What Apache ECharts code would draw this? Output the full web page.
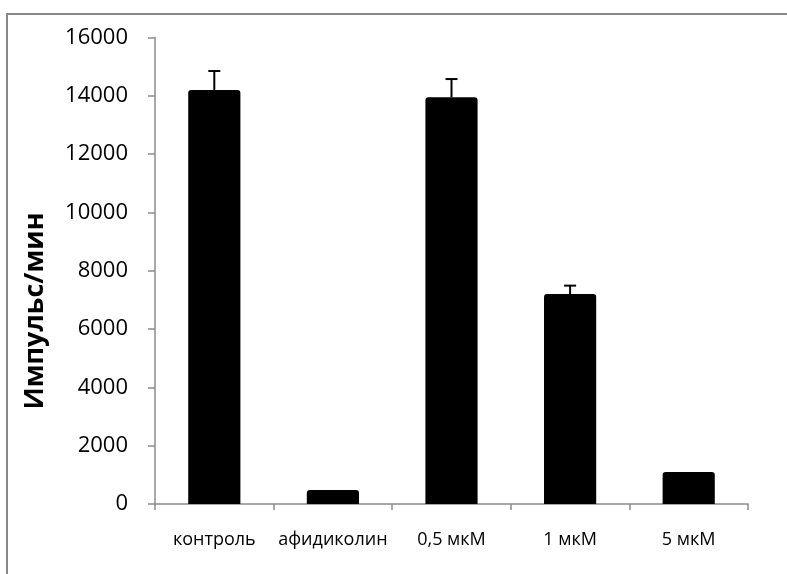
<!DOCTYPE html>
<html>
<head>
<meta charset="utf-8">
<script src="https://cdn.jsdelivr.net/npm/echarts@6/dist/echarts.min.js"></script>
<style>
  html, body { margin: 0; padding: 0; background: #fff; }
  #chart { width: 787px; height: 574px; }
</style>
</head>
<body>
<div id="chart"></div>
<script>
// Incorporation rate per treatment (counts per minute) with upward SD whiskers
const categories = ['контроль', 'афидиколин', '0,5 мкМ', '1 мкМ', '5 мкМ'];
const values = [14200, 480, 13950, 7200, 1100];
const errors = [650, 0, 625, 290, 0];
const yTicks = [0, 2000, 4000, 6000, 8000, 10000, 12000, 14000, 16000];
const yTitle = 'Импульс/мин';

const chart = echarts.init(document.getElementById('chart'));
const font = '"Open Sans", "Liberation Sans", sans-serif';

chart.setOption({
  animation: false,
  backgroundColor: '#fff',
  graphic: [
    {
      type: 'rect',
      shape: { x: 7, y: 14, width: 800, height: 600 },
      style: { fill: 'none', stroke: '#888', lineWidth: 2 },
      silent: true
    },
    {
      type: 'text',
      x: 35, y: 311,
      rotation: Math.PI / 2,
      style: {
        text: yTitle, fill: '#000', font: 'bold 27px ' + font,
        align: 'center', verticalAlign: 'middle'
      },
      silent: true
    }
  ],
  grid: { left: 155, right: 39, top: 37.5, bottom: 70 },
  xAxis: {
    type: 'category',
    data: categories,
    axisLine: { lineStyle: { color: '#8c8c8c', width: 1.5 } },
    axisTick: { show: true, alignWithLabel: false, length: 6, lineStyle: { color: '#8c8c8c', width: 1.5 } },
    axisLabel: { color: '#000', fontFamily: font, fontSize: 18, margin: 27, interval: 0 }
  },
  yAxis: {
    type: 'value',
    min: yTicks[0],
    max: yTicks[yTicks.length - 1],
    interval: 2000,
    axisLine: { show: true, lineStyle: { color: '#8c8c8c', width: 1.5 } },
    axisTick: { show: true, length: 7, lineStyle: { color: '#8c8c8c', width: 1.5 } },
    splitLine: { show: false },
    axisLabel: {
      color: '#000', fontFamily: font, fontSize: 22, margin: 27,
      formatter: function (v) { return String(v); }
    }
  },
  series: [
    {
      type: 'bar',
      data: values,
      barWidth: '44%',
      itemStyle: { color: '#000', borderRadius: [3, 3, 0, 0] }
    },
    {
      type: 'custom',
      data: values.map((v, i) => [i, v, v + errors[i]]),
      renderItem: function (params, api) {
        const i = api.value(0);
        if (api.value(2) <= api.value(1)) return null;
        const base = api.coord([i, api.value(1)]);
        const top = api.coord([i, api.value(2)]);
        const half = 6;
        return {
          type: 'group',
          children: [
            { type: 'line', shape: { x1: base[0], y1: base[1], x2: top[0], y2: top[1] },
              style: { stroke: '#000', lineWidth: 2 } },
            { type: 'line', shape: { x1: top[0] - half, y1: top[1], x2: top[0] + half, y2: top[1] },
              style: { stroke: '#000', lineWidth: 2 } }
          ]
        };
      },
      z: 5
    }
  ]
});
</script>
</body>
</html>
